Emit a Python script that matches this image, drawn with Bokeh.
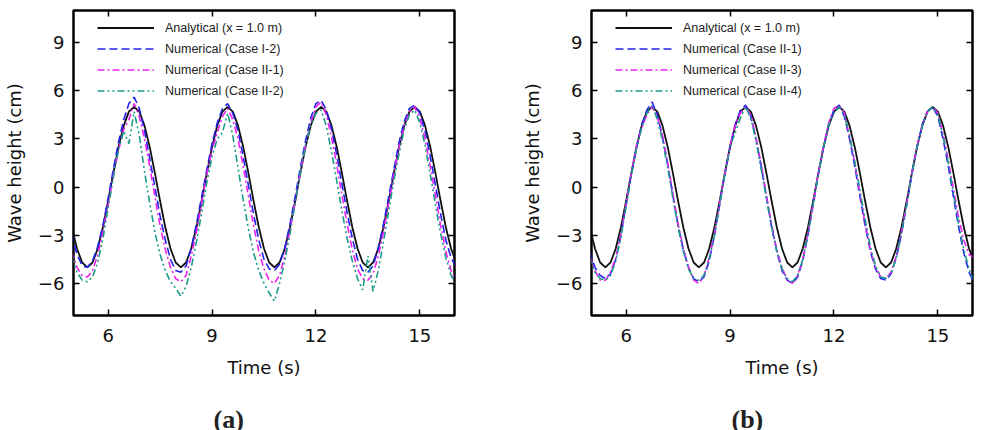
from bokeh.plotting import figure
from bokeh.layouts import row
from bokeh.models import (Range1d, FixedTicker, LinearAxis, Legend, LegendItem,
                          Title, CustomJSTickFormatter)
from bokeh.embed import file_html
from bokeh.resources import INLINE

# Sample times (s)
time_s = [round(4.95 + 0.15 * k, 2) for k in range(75)]

# Analytical wave elevation at x = 1.0 m (cm)
analytical = [
    -2.5, -3.83, -4.70, -5.0, -4.70, -3.83, -2.5, -0.87, 0.87, 2.5, 3.83, 4.70, 5.0, 4.70, 3.83, 2.5, 0.87, -0.87,
    -2.5, -3.83, -4.70, -5.0, -4.70, -3.83, -2.5, -0.87, 0.87, 2.5, 3.83, 4.70, 5.0, 4.70, 3.83, 2.5, 0.87, -0.87,
    -2.5, -3.83, -4.70, -5.0, -4.70, -3.83, -2.5, -0.87, 0.87, 2.5, 3.83, 4.70, 5.0, 4.70, 3.83, 2.5, 0.87, -0.87,
    -2.5, -3.83, -4.70, -5.0, -4.70, -3.83, -2.5, -0.87, 0.87, 2.5, 3.83, 4.70, 5.0, 4.70, 3.83, 2.5, 0.87, -0.87,
    -2.5, -3.83, -4.70,
]

# Panel (a) numerical series
case_I_2 = [
    -2.9, -4.2, -4.9, -5.0, -4.6, -3.7, -2.4, -0.7, 1.1, 2.8, 4.2, 5.2, 5.6, 4.9, 3.5, 1.8, 0.0, -1.8,
    -3.3, -4.5, -5.2, -5.3, -4.9, -3.8, -2.3, -0.6, 1.1, 2.7, 4.0, 4.9, 5.2, 4.6, 3.5, 1.9, 0.1, -1.7,
    -3.3, -4.5, -5.1, -5.2, -4.8, -3.8, -2.3, -0.6, 1.2, 2.9, 4.3, 5.2, 5.4, 4.8, 3.6, 2.0, 0.2, -1.6,
    -3.2, -4.5, -5.2, -5.3, -4.9, -3.8, -2.3, -0.6, 1.1, 2.8, 4.1, 4.9, 5.1, 4.6, 3.5, 1.9, 0.1, -1.7,
    -3.3, -4.4, -5.0,
]
case_II_1a = [
    -4.0, -5.0, -5.5, -5.6, -5.2, -4.2, -2.8, -1.1, 0.7, 2.3, 3.6, 4.2, 5.2, 4.4, 3.0, 1.3, -0.6, -2.4,
    -3.9, -5.0, -5.7, -5.9, -5.5, -4.3, -2.8, -1.0, 0.8, 2.3, 3.4, 4.4, 4.9, 4.2, 3.0, 1.3, -0.6, -2.4,
    -4.0, -5.1, -5.8, -6.0, -5.5, -4.3, -2.7, -0.9, 0.9, 2.6, 4.0, 5.0, 5.3, 4.5, 3.1, 1.4, -0.5, -2.3,
    -3.9, -5.1, -5.7, -5.8, -5.4, -4.3, -2.8, -1.0, 0.8, 2.5, 3.8, 4.7, 5.0, 4.3, 3.0, 1.3, -0.5, -2.4,
    -4.0, -5.2, -5.9,
]
case_II_2 = [
    -4.3, -5.3, -5.8, -5.9, -5.6, -4.7, -3.2, -1.3, 0.6, 2.3, 3.5, 2.7, 4.7, 3.2, 1.0, -1.0, -2.8, -4.2,
    -5.2, -5.9, -6.3, -6.8, -6.2, -5.0, -3.4, -1.6, 0.3, 1.9, 3.0, 3.4, 4.6, 3.2, 1.2, -0.8, -2.6, -4.1,
    -5.2, -6.0, -6.6, -7.1, -6.0, -4.6, -2.9, -1.0, 0.9, 2.6, 3.9, 4.6, 4.8, 3.8, 2.2, 0.4, -1.5, -3.2,
    -4.6, -5.7, -6.4, -4.3, -6.5, -5.2, -3.4, -1.5, 0.4, 2.1, 3.6, 4.5, 4.8, 4.0, 2.6, 0.8, -1.1, -2.9,
    -4.4, -5.5, -6.1,
]

# Panel (b) numerical series
case_II_1b = [
    -4.0, -5.0, -5.5, -5.7, -5.4, -4.5, -3.0, -1.1, 0.8, 2.5, 3.9, 4.8, 5.3, 4.5, 3.1, 1.4, -0.5, -2.4,
    -3.9, -5.0, -5.7, -5.9, -5.6, -4.6, -3.0, -1.1, 0.8, 2.5, 3.9, 4.8, 5.1, 4.4, 3.0, 1.3, -0.6, -2.5,
    -4.0, -5.2, -5.8, -6.0, -5.6, -4.6, -3.0, -1.1, 0.8, 2.5, 3.9, 4.8, 5.1, 4.4, 3.0, 1.3, -0.6, -2.4,
    -4.0, -5.1, -5.7, -5.8, -5.4, -4.4, -2.9, -1.1, 0.8, 2.5, 3.9, 4.7, 5.0, 4.4, 3.0, 1.3, -0.6, -2.5,
    -4.1, -5.3, -6.0,
]
case_II_3 = [
    -4.3, -5.2, -5.8, -5.8, -5.3, -4.4, -2.9, -1.0, 0.9, 2.6, 3.7, 4.5, 5.0, 4.4, 3.2, 1.5, -0.4, -2.3,
    -3.8, -5.0, -5.8, -6.0, -5.5, -4.4, -2.9, -1.0, 0.9, 2.6, 3.9, 4.6, 5.0, 4.5, 3.1, 1.4, -0.5, -2.3,
    -3.9, -5.0, -5.8, -6.0, -5.5, -4.5, -2.9, -1.0, 0.9, 2.6, 4.0, 4.9, 5.1, 4.6, 3.2, 1.5, -0.4, -2.3,
    -3.9, -5.0, -5.6, -5.7, -5.3, -4.3, -2.8, -1.0, 0.9, 2.6, 3.9, 4.7, 5.0, 4.6, 3.3, 1.7, -0.1, -1.9,
    -3.3, -4.2, -4.4,
]
case_II_4 = [
    -4.4, -5.3, -5.7, -5.8, -5.5, -4.6, -3.1, -1.2, 0.7, 2.4, 3.7, 4.6, 5.1, 4.2, 2.9, 1.2, -0.7, -2.5,
    -4.0, -5.1, -5.7, -5.8, -5.5, -4.5, -3.0, -1.1, 0.8, 2.5, 3.4, 4.3, 5.0, 4.3, 2.9, 1.1, -0.7, -2.5,
    -4.0, -5.1, -5.7, -5.9, -5.5, -4.5, -2.9, -1.1, 0.8, 2.5, 3.9, 4.6, 5.0, 4.5, 3.2, 1.6, -0.2, -2.0,
    -3.7, -4.9, -5.6, -5.7, -5.4, -4.4, -2.9, -1.1, 0.8, 2.5, 3.8, 4.7, 5.0, 4.5, 3.2, 1.5, -0.4, -2.3,
    -3.9, -5.1, -5.9,
]

x_ticks = [6, 9, 12, 15]
y_ticks = [-6, -3, 0, 3, 6, 9]

AXIS_FONT = "DejaVu Sans"
LEGEND_FONT = "Liberation Sans"
BLACK = "#111111"
BLUE = "#2323ee"
MAGENTA = "#ee22ee"
TEAL = "#1a9a8a"


def make_panel(series, caption, left_border, right_border):
    p = figure(frame_width=381, frame_height=305,
               min_border_left=left_border, min_border_right=right_border,
               min_border_top=10, min_border_bottom=115,
               x_range=Range1d(5, 16), y_range=Range1d(-8, 11),
               output_backend="svg", toolbar_location=None,
               background_fill_color="white", border_fill_color="white")
    p.xgrid.visible = False
    p.ygrid.visible = False
    p.outline_line_color = "black"
    p.outline_line_width = 2.5

    # mirrored tick marks on the top and right edges
    p.add_layout(LinearAxis(), "above")
    p.add_layout(LinearAxis(), "right")

    for ax in p.axis:
        ax.axis_line_color = None
        ax.major_tick_in = 6
        ax.major_tick_out = 0
        ax.major_tick_line_width = 1.5
        ax.major_tick_line_color = "black"
        ax.minor_tick_line_color = None
        ax.major_label_text_font = AXIS_FONT
        ax.major_label_text_font_size = "18px"
        ax.major_label_text_color = "#111111"
        ax.axis_label_text_font = AXIS_FONT
        ax.axis_label_text_font_size = "18px"
        ax.axis_label_text_font_style = "normal"
        ax.axis_label_text_color = "#111111"

    for ax in p.xaxis:
        ax.ticker = FixedTicker(ticks=x_ticks)
    for ax in p.yaxis:
        ax.ticker = FixedTicker(ticks=y_ticks)

    for ax in (p.above[0], p.right[0]):
        ax.formatter = CustomJSTickFormatter(code="return ''")
        ax.major_label_standoff = 0
        ax.major_label_text_font_size = "1px"

    p.below[0].axis_label = "Time (s)"
    p.below[0].major_label_standoff = 13
    p.below[0].axis_label_standoff = 12
    p.left[0].axis_label = "Wave height (cm)"
    p.left[0].major_label_standoff = 9
    p.left[0].axis_label_standoff = 10

    items = []
    for label, ys, color, dash in series:
        width = 1.8 if dash == "solid" else 1.6
        r = p.line(time_s, ys, line_color=color, line_width=width, line_dash=dash)
        items.append(LegendItem(label=label, renderers=[r]))

    legend = Legend(items=items, location=(24, 216),
                    glyph_width=57, glyph_height=17, label_height=17,
                    label_standoff=11, spacing=4, padding=0, margin=0,
                    border_line_color=None, background_fill_alpha=0,
                    label_text_font=LEGEND_FONT, label_text_font_size="12.5px",
                    label_text_color="#222222")
    p.add_layout(legend)

    # sub-figure caption under the axis title
    p.add_layout(Title(text=caption, align="left", offset=140, standoff=45,
                       text_font="Liberation Serif", text_font_style="bold",
                       text_font_size="26px", text_color="#222222"), "below")
    return p


p_a = make_panel([
    ("Analytical (x = 1.0 m)", analytical, BLACK, "solid"),
    ("Numerical (Case I-2)", case_I_2, BLUE, "8 4"),
    ("Numerical (Case II-1)", case_II_1a, MAGENTA, "7 3 2 3"),
    ("Numerical (Case II-2)", case_II_2, TEAL, "7 3 2 3 2 3"),
], "(a)", 73, 36)

p_b = make_panel([
    ("Analytical (x = 1.0 m)", analytical, BLACK, "solid"),
    ("Numerical (Case II-1)", case_II_1b, BLUE, "8 4"),
    ("Numerical (Case II-3)", case_II_3, MAGENTA, "7 3 2 3"),
    ("Numerical (Case II-4)", case_II_4, TEAL, "7 3 2 3 2 3"),
], "(b)", 101, 12)

layout = row(p_a, p_b)
open("out.html", "w").write(file_html(layout, INLINE))
